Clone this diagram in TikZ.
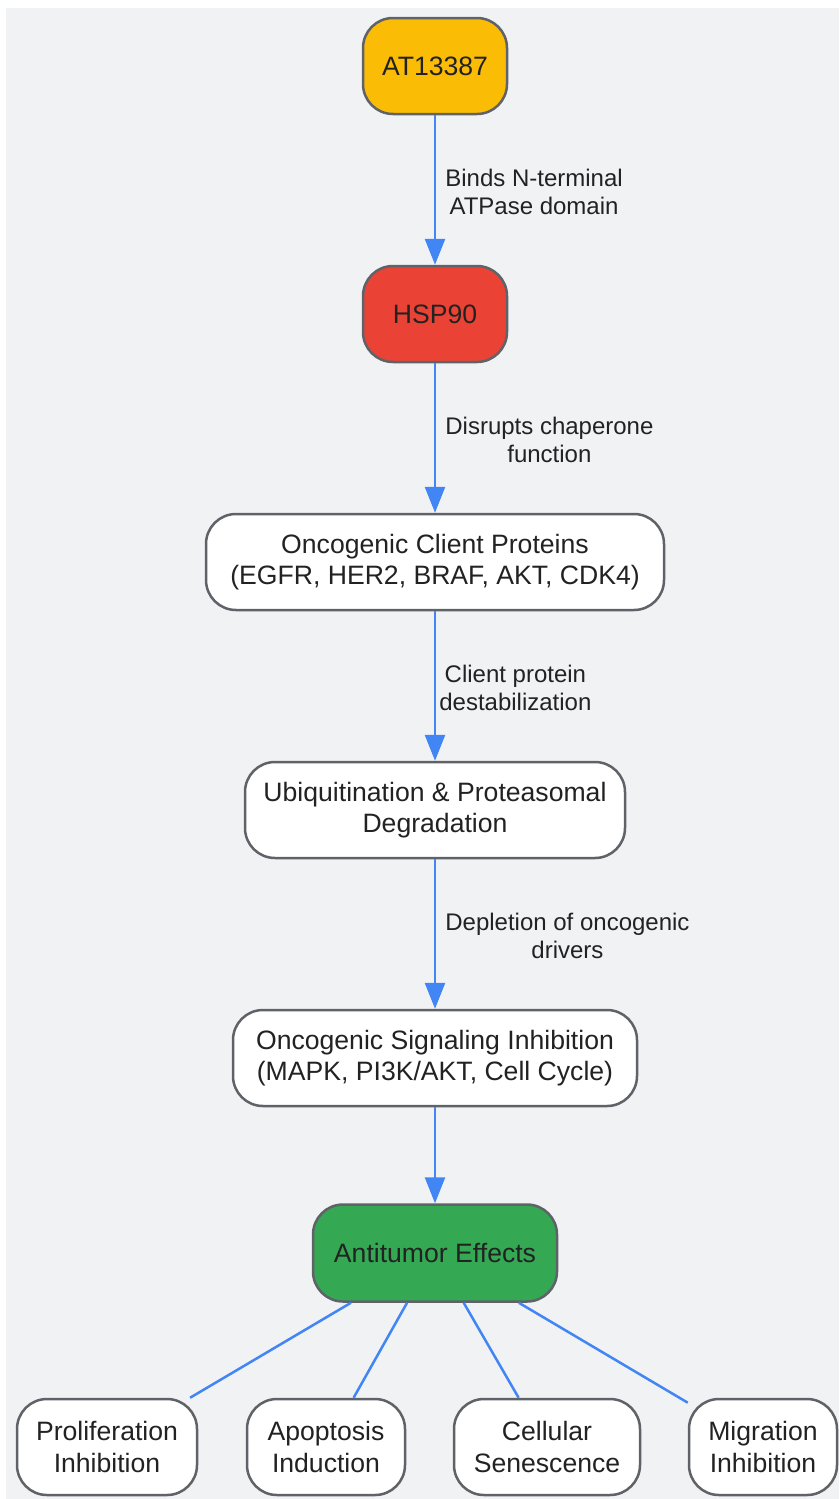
\documentclass[tikz,border=0pt]{standalone}
\usepackage{fontspec}
\setmainfont{Liberation Sans}
\usetikzlibrary{arrows.meta}

\definecolor{page gray}{HTML}{F1F2F4}
\definecolor{box edge}{HTML}{5F6368}
\definecolor{box text}{HTML}{222222}
\definecolor{flow blue}{HTML}{4285F4}
\definecolor{drug yellow}{HTML}{FBBC05}
\definecolor{target red}{HTML}{EA4335}
\definecolor{effect green}{HTML}{34A853}

\def\boxfont{\fontsize{26.6}{31.5}\selectfont}
\def\labelfont{\fontsize{24}{28}\selectfont}

\tikzset{box/.style={draw=box edge, line width=2.5pt, rounded corners=30pt,
        fill=white, minimum height=96pt, align=center, text=box text,
        font=\boxfont, inner sep=0pt},
    flow/.style={draw=flow blue, line width=2.7pt,
        -{Triangle[length=26pt,width=20pt]}},
    link/.style={draw=flow blue, line width=2.5pt},
    edgelabel/.style={midway, anchor=west, align=center, text=box text,
        font=\labelfont, inner sep=0pt, xshift=9pt, yshift=-2pt}}

\begin{document}
\begin{tikzpicture}[x=1pt, y=-1pt]
    \useasboundingbox (0,0) rectangle (839,1499);
    \fill[page gray] (6,8) rectangle (839,1499);

    \node[box, fill=drug yellow, minimum width=144pt] (drug) at (435,66) {AT13387};
    \node[box, fill=target red, minimum width=144pt] (hsp) at (435,314) {HSP90};
    \node[box, minimum width=458pt] (client) at (435,562)
        {Oncogenic Client Proteins\\(EGFR, HER2, BRAF, AKT, CDK4)};
    \node[box, minimum width=380pt] (degr) at (435,810)
        {Ubiquitination \& Proteasomal\\Degradation};
    \node[box, minimum width=404pt] (signal) at (435,1058)
        {Oncogenic Signaling Inhibition\\(MAPK, PI3K/AKT, Cell Cycle)};
    \node[box, fill=effect green, minimum width=244pt, minimum height=97pt] (anti) at (435,1253)
        {Antitumor Effects};

    \node[box, minimum width=180pt] (prolif) at (107,1447) {Proliferation\\Inhibition};
    \node[box, minimum width=158pt] (apop) at (326,1447) {Apoptosis\\Induction};
    \node[box, minimum width=186pt] (senes) at (547,1447) {Cellular\\Senescence};
    \node[box, minimum width=148pt] (migr) at (763,1447) {Migration\\Inhibition};

    \draw[flow] (drug) -- node[edgelabel] {Binds N-terminal\\ATPase domain} (hsp);
    \draw[flow] (hsp) -- node[edgelabel] {Disrupts chaperone\\function} (client);
    \draw[flow] (client) -- node[edgelabel, xshift=-6pt] {Client protein\\destabilization} (degr);
    \draw[flow] (degr) -- node[edgelabel] {Depletion of oncogenic\\drivers} (signal);
    \draw[flow] (signal) -- (anti);

    \draw[link] (anti) -- (prolif);
    \draw[link] (anti) -- (apop);
    \draw[link] (anti) -- (senes);
    \draw[link] (anti) -- (migr);
\end{tikzpicture}
\end{document}
